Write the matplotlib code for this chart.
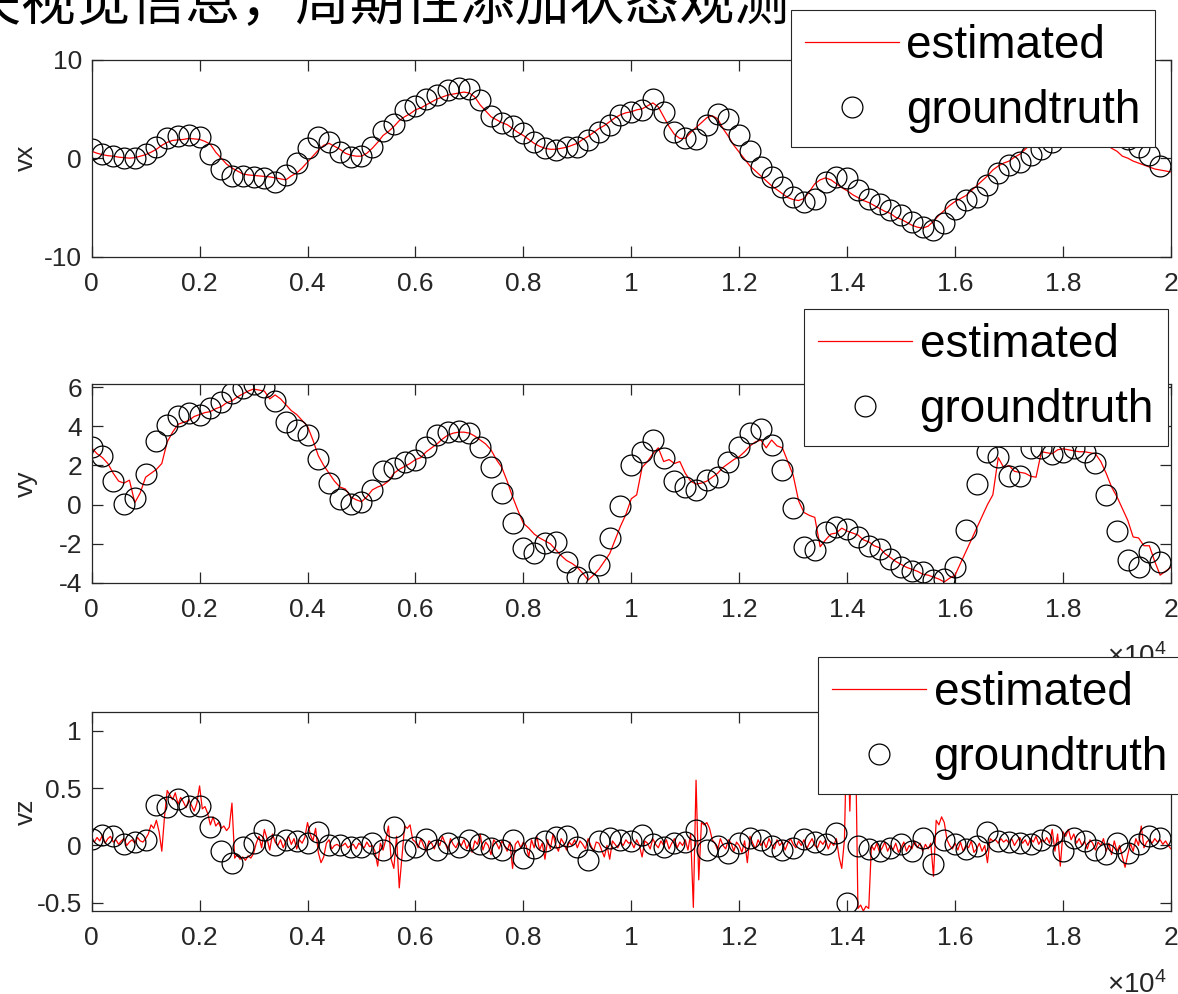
import matplotlib
matplotlib.use("Agg")
import matplotlib.pyplot as plt
import numpy as np
from matplotlib.ticker import FuncFormatter

plt.rcParams['font.family'] = ['Liberation Sans', 'Noto Sans CJK SC']
plt.rcParams['mathtext.fontset'] = 'custom'
plt.rcParams['mathtext.rm'] = 'Liberation Sans'

titre = "丢失视觉信息，周期性添加状态观测"

# groundtruth : un point tous les 200 pas
gt_vx = [0.88, 0.4, 0.2, 0.0, 0.03, 0.4, 1.08, 2.0, 2.2, 2.3,
         2.1, 0.47, -1.1, -1.8, -1.8, -1.9, -2.06, -2.4, -1.7, -0.54,
         0.98, 2.1, 1.65, 0.64, 0.14, 0.2, 1.15, 2.77, 3.45, 4.86,
         5.27, 5.95, 6.38, 6.96, 7.16, 7.06, 5.88, 4.26, 3.6, 3.24,
         2.5, 1.65, 0.98, 0.8, 1.08, 1.15, 1.82, 2.67, 3.4, 4.36,
         4.7, 4.86, 5.95, 4.7, 2.67, 2.0, 1.9, 3.34, 4.46, 4.02,
         2.33, 0.74, -0.88, -1.9, -2.9, -3.9, -4.4, -4.1, -2.4, -1.9,
         -2.06, -3.18, -4.19, -4.6, -5.27, -5.78, -6.45, -6.96, -7.3, -6.62,
         -5.2, -4.26, -3.92, -2.74, -1.55, -0.71, -0.37, 0.3, 0.9, 1.6,
         2.4, 3.0, 3.5, 3.6, 3.3, 2.6, 1.9, 1.15, 0.3, -0.81]
gt_vy = [2.93, 2.48, 1.21, 0.02, 0.32, 1.56, 3.27, 4.06, 4.52, 4.66,
         4.57, 4.91, 5.26, 5.68, 5.94, 6.16, 6.02, 5.31, 4.23, 3.81,
         3.55, 2.31, 1.09, 0.27, 0.03, 0.15, 0.75, 1.73, 1.85, 2.19,
         2.28, 2.93, 3.55, 3.72, 3.78, 3.67, 2.96, 1.9, 0.58, -0.92,
         -2.23, -2.48, -1.97, -1.89, -2.91, -3.67, -3.93, -3.08, -1.72, -0.05,
         2.0, 2.7, 3.3, 2.36, 1.2, 0.9, 0.73, 1.25, 1.42, 2.19,
         2.96, 3.64, 3.85, 3.04, 1.79, -0.15, -2.17, -2.31, -1.4, -1.15,
         -1.23, -1.66, -2.09, -2.26, -2.77, -3.16, -3.4, -3.45, -3.85, -3.79,
         -3.2, -1.28, 1.04, 2.7, 2.44, 1.45, 1.47, 2.87, 2.87, 2.6,
         2.7, 2.87, 2.7, 2.14, 0.48, -1.35, -2.85, -3.16, -2.43, -2.94]
gt_vz = [0.055, 0.093, 0.079, 0.015, 0.03, 0.05, 0.356, 0.34, 0.41, 0.347,
         0.347, 0.16, -0.044, -0.149, -0.015, 0.02, 0.131, 0.0, 0.05, 0.035,
         0.02, 0.122, 0.0, 0.0, -0.01, -0.017, 0.026, -0.038, 0.16, -0.038,
         -0.009, 0.055, -0.038, 0.026, -0.009, 0.05, 0.015, -0.023, -0.038, 0.044,
         -0.11, -0.023, 0.035, 0.073, 0.085, -0.009, -0.131, 0.035, 0.066, 0.05,
         0.037, 0.095, 0.009, -0.01, 0.023, 0.029, 0.139, -0.043, -0.006, -0.064,
         0.023, 0.066, 0.052, -0.006, -0.04, -0.02, 0.058, 0.029, 0.017, 0.11,
         -0.498, -0.006, -0.029, -0.049, -0.02, 0.009, -0.049, 0.066, -0.165, 0.046,
         0.009, -0.029, -0.006, 0.116, 0.038, 0.029, 0.023, 0.017, 0.052, 0.095,
         -0.049, 0.066, 0.038, -0.035, -0.078, 0.023, -0.064, 0.009, 0.081, 0.066]

# estimation : vx, vy tous les 100 pas, vz tous les 50 pas
est_vx = [0.7, 0.5, 0.35, 0.25, 0.2, 0.1, 0.05, 0.0, 0.05, 0.2,
          0.35, 0.6, 0.9, 1.3, 1.6, 1.8, 1.85, 1.9, 2.0, 1.95,
          1.9, 1.7, 1.4, 0.6, 0.0, -0.6, -1.0, -1.3, -1.6, -1.7,
          -1.75, -1.8, -1.85, -1.9, -2.0, -2.1, -2.2, -1.8, -1.5, -1.0,
          -0.4, 0.2, 0.8, 1.3, 1.5, 1.2, 0.9, 0.5, 0.3, 0.2,
          0.2, 0.5, 1.0, 1.6, 2.3, 2.7, 3.2, 3.8, 4.2, 4.5,
          4.9, 5.1, 5.4, 5.7, 6.0, 6.2, 6.4, 6.5, 6.6, 6.7,
          6.6, 6.2, 5.4, 4.8, 4.2, 3.9, 3.6, 3.4, 3.0, 2.6,
          2.3, 1.9, 1.5, 1.2, 1.0, 0.9, 0.9, 1.0, 1.1, 1.3,
          1.5, 1.9, 2.2, 2.6, 3.0, 3.3, 3.7, 4.1, 4.4, 4.6,
          4.7, 4.9, 5.0, 5.3, 5.6, 5.2, 4.2, 3.2, 2.4, 2.0,
          2.0, 2.6, 3.1, 3.6, 4.1, 4.3, 4.0, 3.0, 2.2, 1.3,
          0.6, -0.1, -0.8, -1.3, -1.8, -2.3, -2.8, -3.2, -3.6, -4.0,
          -4.2, -4.3, -4.1, -3.4, -2.6, -2.2, -2.0, -2.2, -2.6, -3.0,
          -3.3, -3.7, -4.0, -4.3, -4.5, -4.8, -5.1, -5.4, -5.6, -6.0,
          -6.2, -6.5, -6.8, -7.0, -7.1, -6.9, -6.4, -5.8, -5.3, -4.8,
          -4.4, -4.1, -3.8, -3.3, -2.8, -2.3, -1.8, -1.2, -0.8, -0.5,
          -0.3, 0.1, 0.4, 0.9, 1.4, 1.9, 2.3, 2.8, 3.2, 3.4,
          3.6, 3.7, 3.5, 3.3, 3.0, 2.6, 2.2, 1.8, 1.4, 1.0,
          0.7, 0.2, 0.0, -0.3, -0.5, -0.7, -0.9, -1.1, -1.2, -1.3, -1.4]
est_vy = [2.9, 2.6, 2.4, 2.1, 1.6, 1.2, 1.1, 1.25, 0.1, 0.6,
          1.4, 1.6, 1.8, 2.1, 3.2, 3.7, 4.1, 4.2, 4.3, 4.5,
          4.6, 4.7, 4.75, 4.9, 5.0, 5.2, 5.3, 5.5, 5.65, 5.8,
          5.9, 5.85, 5.8, 5.4, 5.6, 5.4, 5.1, 4.8, 4.6, 4.3,
          4.0, 3.3, 2.5, 2.0, 1.6, 1.2, 0.9, 0.8, 0.4, 0.25,
          0.15, 0.4, 0.75, 0.9, 1.0, 1.2, 1.6, 1.8, 1.95, 2.1,
          2.3, 2.4, 2.7, 2.9, 3.1, 3.35, 3.55, 3.65, 3.7, 3.7,
          3.65, 3.5, 3.3, 3.1, 2.8, 2.3, 1.9, 1.2, 0.4, -0.3,
          -0.95, -1.2, -1.5, -1.7, -1.85, -2.0, -2.3, -2.6, -2.85, -3.0,
          -3.2, -3.5, -3.85, -3.6, -3.3, -2.9, -2.5, -1.8, -1.1, -0.5,
          0.3, 0.5, 1.9, 2.2, 2.6, 2.9, 2.2, 2.3, 2.1, 2.2,
          1.6, 1.2, 1.05, 1.1, 1.2, 1.4, 1.6, 1.9, 2.1, 2.3,
          2.45, 2.7, 3.0, 3.2, 3.3, 2.9, 3.3, 3.0, 2.9, 2.2,
          1.5, 0.2, -0.4, -0.55, -0.65, -2.15, -1.8, -1.5, -1.45, -1.2,
          -1.35, -1.45, -1.55, -1.8, -1.9, -2.1, -2.2, -2.5, -2.7, -2.9,
          -3.05, -3.2, -3.3, -3.4, -3.55, -3.6, -3.7, -3.8, -3.95, -3.75,
          -3.6, -3.0, -2.4, -1.8, -1.2, -0.6, 0.0, 0.5, 2.4, 1.9,
          2.0, 1.7, 1.65, 1.6, 1.45, 1.4, 2.7, 2.65, 2.6, 2.8,
          2.85, 2.8, 2.75, 2.7, 2.7, 2.65, 2.6, 2.2, 1.6, 0.9,
          0.4, -0.2, -0.8, -1.65, -1.7, -2.1, -2.1, -2.9, -3.6, -3.4, -3.2]
est_vz = [0.05, 0.03, 0.07, 0.04, 0.09, 0.02, 0.06, 0.08, 0.03, 0.05,
          0.01, 0.04, 0.06, 0.0, 0.03, 0.05, 0.02, 0.07, 0.04, 0.03,
          0.06, 0.1, 0.18, 0.15, 0.22, 0.12, -0.05, 0.25, 0.48, 0.44,
          0.4, 0.46, 0.36, 0.42, 0.38, 0.33, 0.4, 0.35, 0.3, 0.37,
          0.52, 0.32, 0.34, 0.28, 0.18, 0.25, 0.17, 0.2, 0.15, 0.17,
          0.13, 0.16, 0.37, -0.11, -0.08, -0.12, -0.1, -0.13, -0.09, -0.11,
          -0.07, 0.02, 0.08, -0.02, 0.14, 0.06, -0.04, 0.1, 0.03, 0.0,
          0.05, -0.02, 0.04, 0.08, 0.01, 0.06, -0.03, 0.05, 0.02, 0.07,
          0.2, 0.1, 0.04, 0.15, -0.06, -0.15, -0.1, 0.02, 0.05, -0.03,
          0.0, 0.01, -0.01, 0.0, 0.02, -0.02, 0.0, 0.01, -0.03, 0.02,
          0.0, -0.02, 0.03, -0.01, 0.0, -0.05, -0.18, 0.02, -0.04, 0.05,
          0.17, -0.12, -0.2, 0.08, -0.37, -0.1, 0.17, 0.15, 0.18, 0.05,
          0.03, -0.02, 0.06, 0.0, -0.05, 0.04, 0.02, -0.03, 0.05, 0.0,
          0.08, 0.02, -0.04, 0.06, 0.01, -0.02, 0.03, 0.0, 0.05, -0.03,
          0.02, -0.06, 0.04, 0.01, 0.1, -0.04, 0.03, 0.0, -0.08, 0.05,
          0.02, -0.03, 0.04, 0.0, -0.05, 0.03, -0.2, 0.01, 0.04, -0.02,
          0.03, 0.0, -0.1, 0.05, -0.02, 0.08, -0.04, 0.02, -0.12, 0.05,
          -0.03, 0.1, 0.0, -0.05, 0.06, 0.02, -0.04, 0.03, 0.0, 0.05,
          -0.02, 0.04, 0.01, -0.03, 0.06, 0.0, -0.05, 0.03, 0.02, -0.04,
          -0.1, 0.0, -0.12, 0.04, 0.01, -0.02, 0.03, 0.0, 0.05, 0.02,
          0.03, -0.02, 0.05, 0.0, -0.1, 0.04, 0.02, -0.03, 0.06, 0.01,
          -0.02, 0.04, 0.0, 0.05, -0.03, 0.02, 0.06, -0.02, 0.03, 0.0,
          0.05, -0.04, 0.1, -0.54, 0.57, -0.3, 0.2, 0.18, 0.2, 0.15,
          0.05, 0.02, -0.04, 0.06, 0.0, -0.03, 0.05, 0.02, -0.05, 0.03,
          0.0, -0.06, 0.04, -0.15, 0.08, 0.02, -0.03, 0.05, 0.0, 0.04,
          -0.02, 0.06, 0.01, -0.03, 0.05, 0.0, 0.03, -0.04, 0.02, 0.06,
          0.01, -0.02, 0.04, 0.0, 0.05, -0.03, 0.02, 0.06, 0.0, -0.02,
          0.04, 0.01, 0.05, -0.03, 0.03, 0.0, 0.06, -0.1, -0.2, 0.05,
          1.163, 0.3, 1.163, 1.1, -0.55, -0.52, -0.572, -0.53, -0.55, 0.0,
          -0.04, 0.02, -0.06, -0.02, 0.03, -0.05, 0.0, -0.04, 0.02, -0.06,
          -0.02, 0.03, -0.05, 0.0, -0.03, 0.04, -0.02, 0.02, -0.05, 0.01,
          -0.03, 0.02, -0.27, 0.22, 0.18, 0.25, 0.2, 0.05, 0.0, -0.03,
          0.02, -0.04, 0.03, -0.05, 0.0, -0.02, 0.04, -0.06, -0.03, 0.02,
          -0.05, 0.0, -0.15, 0.06, 0.04, 0.05, 0.02, 0.06, 0.03, 0.05,
          0.02, 0.06, 0.0, 0.04, 0.07, 0.02, 0.05, 0.0, 0.06, 0.03,
          0.08, 0.01, 0.05, 0.03, 0.07, 0.02, 0.14, -0.05, 0.1, -0.18,
          0.12, 0.08, 0.14, 0.05, 0.1, 0.02, 0.06, 0.0, 0.04, -0.03,
          0.05, 0.02, -0.04, 0.03, 0.0, 0.06, -0.05, 0.02, -0.08, 0.04,
          -0.05, 0.0, -0.1, -0.19, -0.08, 0.02, -0.05, 0.06, 0.0, 0.17,
          -0.02, 0.03, 0.05, 0.02, 0.06, 0.03, 0.05, 0.01, 0.04, 0.0, -0.03]

noms = ["vx", "vy", "vz"]
yticks = [[-10, 0, 10], [-4, -2, 0, 2, 4, 6], [-0.5, 0, 0.5, 1]]

t_gt = np.arange(len(gt_vx)) * 200
t_xy = np.arange(len(est_vx)) * 100
t_z = np.arange(len(est_vz)) * 50

gris = '#262626'
fig = plt.figure(figsize=(11.78, 9.94), dpi=100)

positions = [[0.0778, 0.7417, 0.9162, 0.1984],
             [0.0778, 0.4135, 0.9162, 0.2002],
             [0.0778, 0.0835, 0.9162, 0.1999]]
series = [(t_xy, est_vx, gt_vx), (t_xy, est_vy, gt_vy), (t_z, est_vz, gt_vz)]
legendes = [(791, 10), (804, 309), (818, 657)]

for i in range(3):
    ax = fig.add_axes(positions[i])
    t_est, est, gt = series[i]
    l1, = ax.plot(t_est, est, color='r', lw=0.9)
    l2, = ax.plot(t_gt, gt, 'o', mfc='none', mec='k', ms=15, mew=0.9)
    ax.set_xlim(0, 20000)
    if i == 0:
        ax.set_ylim(-10, 10)
    else:
        lo = min(min(est), min(gt))
        hi = max(max(est), max(gt))
        ax.set_ylim(lo, hi)
    ax.set_yticks(yticks[i])
    ax.set_xticks(np.arange(0, 20001, 2000))
    ax.xaxis.set_major_formatter(FuncFormatter(lambda v, p: "%g" % (v / 1e4)))
    ax.yaxis.set_major_formatter(FuncFormatter(lambda v, p: "%g" % v))
    ax.tick_params(direction='in', length=8, width=0.9, color=gris, labelcolor=gris,
                   labelsize=19, top=True, right=True)
    ax.tick_params(axis='x', pad=11)
    ax.tick_params(axis='y', pad=7)
    for s in ax.spines.values():
        s.set_color(gris)
        s.set_linewidth(0.9)
    ax.set_ylabel(noms[i], fontsize=19, color=gris)
    ax.yaxis.set_label_coords(-0.05, 0.5)
    # facteur d'échelle de l'axe des x
    ax.annotate(r'$\mathregular{\times10^{4}}$', xy=(0.996, 0), xycoords='axes fraction',
                xytext=(0, -59), textcoords='offset points', ha='right', va='baseline',
                fontsize=20, color=gris)

    lx, ly = legendes[i]
    leg = fig.legend([l1, l2], ['estimated', 'groundtruth'], loc='upper left',
                     bbox_to_anchor=(lx / 1178, 1 - ly / 994), bbox_transform=fig.transFigure,
                     fontsize=33, frameon=True, fancybox=False, edgecolor=gris, framealpha=1,
                     borderpad=0.3, handlelength=2.05, handletextpad=0.17,
                     labelspacing=0.47, borderaxespad=0)
    leg.get_frame().set_linewidth(0.8)

fig.text(790 / 1178, 1 - 20 / 994, titre, ha='right', va='baseline', fontsize=39.5,
         family=['Noto Sans CJK SC', 'DejaVu Sans'])

plt.savefig('out.png', dpi=100)
